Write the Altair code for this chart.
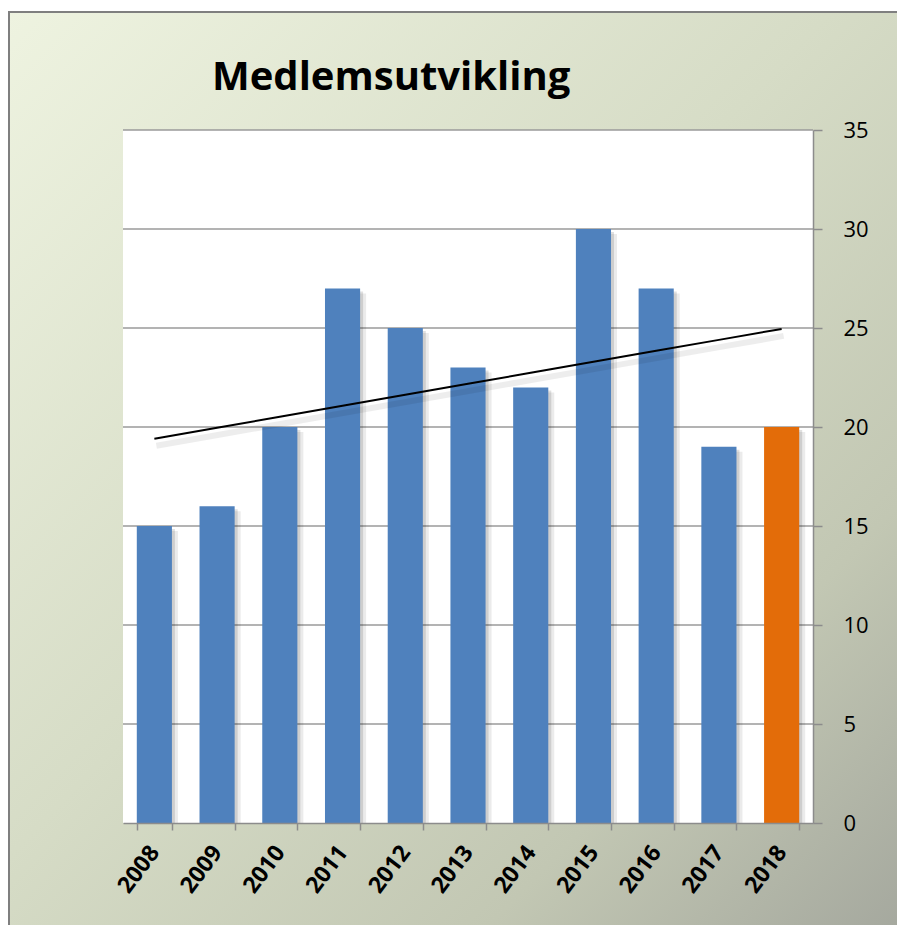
import altair as alt
import numpy as np
import pandas as pd

years = ["2008", "2009", "2010", "2011", "2012", "2013", "2014", "2015", "2016", "2017", "2018"]
members = [15, 16, 20, 27, 25, 23, 22, 30, 27, 19, 20]
highlight_year = "2018"
y_ticks = [0, 5, 10, 15, 20, 25, 30, 35]
title_text = "Medlemsutvikling"

# linear trend line (least squares over the series)
idx = np.arange(len(years))
slope, intercept = np.polyfit(idx, members, 1)
trend = [float(intercept + slope * i) for i in idx]

df = pd.DataFrame({"year": years, "members": members, "trend": trend})
grid_df = pd.DataFrame({"members": y_ticks[1:]})
one = alt.Data(values=[{"a": 1}])

W, H = 690, 693
FONT = "Open Sans"

x_axis = alt.Axis(
    title=None, labelAngle=307, labelFont=FONT, labelFontWeight="bold",
    labelFontSize=23, labelColor="black", domainColor="#8c8c8c", domainWidth=1.5,
    tickColor="#8c8c8c", tickWidth=1.5, tickSize=7, tickBand="extent",
    labelPadding=18, zindex=1,
)
y_axis = alt.Axis(
    orient="right", title=None, values=y_ticks, grid=False, labelFont=FONT,
    labelFontSize=22, labelColor="black", domainColor="#8c8c8c", domainWidth=1.5,
    tickColor="#8c8c8c", tickWidth=1.5, tickSize=9, labelPadding=21, zindex=1,
)
x_scale = alt.Scale(paddingInner=0.44, paddingOuter=0.22)
y_scale = alt.Scale(domain=[0, 35], nice=False)


def X():
    return alt.X("year:N", sort=years, scale=x_scale, axis=x_axis)


def Y(field):
    return alt.Y(f"{field}:Q", scale=y_scale, axis=y_axis)


bg = alt.Chart(one).mark_rect(
    color=alt.LinearGradient(
        gradient="linear", x1=0, y1=0, x2=1, y2=1,
        stops=[
            alt.GradientStop(color="#eef3e0", offset=0),
            alt.GradientStop(color="#d6dcc6", offset=0.45),
            alt.GradientStop(color="#c2c7b3", offset=0.75),
            alt.GradientStop(color="#a2a59c", offset=1),
        ],
    ),
    stroke="#7f7f7f", strokeWidth=2,
).encode(x=alt.value(-114), x2=alt.value(800), y=alt.value(-118), y2=alt.value(820))

plot_bg = alt.Chart(one).mark_rect(color="white").encode(
    x=alt.value(0), x2=alt.value(W), y=alt.value(0), y2=alt.value(H)
)

title = alt.Chart(one).mark_text(
    text=title_text, font=FONT, fontSize=40, fontWeight="bold", color="black",
    align="left", baseline="alphabetic",
).encode(x=alt.value(89), y=alt.value(-40))

grid = alt.Chart(grid_df).mark_rule(color="#9a9a9a", strokeWidth=1.5).encode(y=Y("members"))

base = alt.Chart(df)
shadow1 = base.mark_bar(color="black", opacity=0.12, xOffset=3, yOffset=3, clip=True).encode(
    x=X(), y=Y("members")
)
shadow2 = base.mark_bar(color="black", opacity=0.08, xOffset=6, yOffset=5, clip=True).encode(
    x=X(), y=Y("members")
)
bars = base.mark_bar().encode(
    x=X(), y=Y("members"),
    color=alt.condition(alt.datum.year == highlight_year, alt.value("#e36c09"), alt.value("#4f81bd")),
)
trend_shadow = base.mark_line(color="black", opacity=0.07, strokeWidth=6, yOffset=7, xOffset=2).encode(
    x=X(), y=Y("trend")
)
trend_line = base.mark_line(color="black", strokeWidth=2).encode(x=X(), y=Y("trend"))

chart = alt.layer(
    bg, plot_bg, title, grid, shadow2, shadow1, bars, trend_shadow, trend_line
).properties(
    width=W, height=H,
    autosize=alt.AutoSizeParams(type="none"),
    padding={"left": 115, "top": 122, "right": 84, "bottom": 102},
    background="white",
).configure_view(stroke=None)

chart.save("out.html", embed_options={"renderer": "svg", "actions": False})
